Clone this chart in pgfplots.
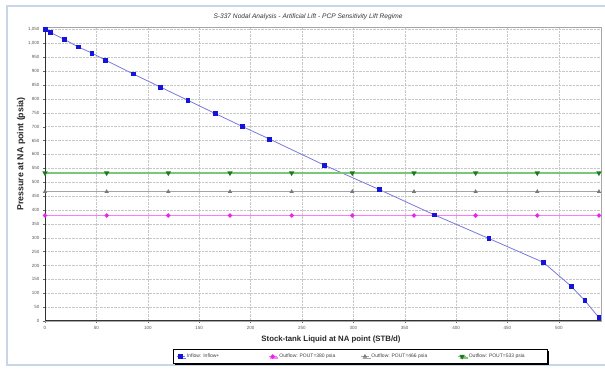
\documentclass[border=0pt]{standalone}
\usepackage{pgfplots}
\pgfplotsset{compat=1.18}
\usepackage{fontspec}
\setmainfont{Liberation Sans}
\usetikzlibrary{shadows}
\definecolor{inbl}{RGB}{120,120,225}
\definecolor{inmk}{RGB}{20,20,220}
\definecolor{mgl}{RGB}{255,120,255}
\definecolor{mgm}{RGB}{230,40,230}
\definecolor{grl}{RGB}{165,165,165}
\definecolor{grm}{RGB}{120,120,120}
\definecolor{gnl}{RGB}{120,200,120}
\definecolor{gnm}{RGB}{30,120,30}
\definecolor{frame}{RGB}{200,215,232}
\begin{document}
\begin{tikzpicture}[x=1pt,y=1pt]
\path[use as bounding box] (0,0) rectangle (605,371);
\draw[frame, line width=1.2pt] (7,6) rectangle (606,365);
\begin{axis}[
  at={(45pt,50pt)}, anchor=south west,
  scale only axis, width=556pt, height=294pt,
  xmin=0, xmax=541, ymin=0, ymax=1059,
  xtick={0,50,...,500}, ytick={0,50,...,1050},
  /pgf/number format/assume math mode=true,
  /pgf/number format/1000 sep={,},
  ticklabel style={font=\fontsize{4.5}{5}\selectfont, text=black!65},
  tick align=outside, major tick length=2pt,
  tick style={black!60},
  xtick pos=bottom, ytick pos=left,
  grid=major, major grid style={densely dotted, black!22},
  axis line style={black!35},
  legend columns=4,
  legend style={at={(0.5675,-0.146)}, anchor=south, draw=black, thick,
    font=\fontsize{5}{6}\selectfont, text=black!75, inner sep=2.5pt,
    fill=white, drop shadow={shadow xshift=1.6pt, shadow yshift=-1.6pt, fill=black, opacity=1},
    /tikz/every even column/.append style={column sep=1pt}},
  legend image code/.code={\draw[#1] (0pt,0pt) -- (8pt,0pt); \draw[#1, mark repeat=1] plot coordinates {(4pt,0pt)};},
]
\addplot[inbl, line width=0.8pt, mark=square*, mark size=1.9pt, mark options={inmk, solid}] coordinates {
(0,1050)(5.3,1039)(19,1014)(32.4,987)(45.7,965)(58.7,940)(85.7,890)(112.6,842)(139,795)(165.8,747)(192.4,700)(218.7,655)(272,561)(325.5,473)(379,382)(432,297)(485,211)(512,125)(525.4,73)(539,12)};
\addlegendentry{\makebox[78pt][l]{Inflow: Inflow+}}
\addplot[mgl, line width=1.4pt, mark=*, mark size=1.4pt, mark options={mgm, solid}] coordinates {
(0,380)(60,380)(120,380)(180,380)(240,380)(299,380)(359,380)(419,380)(479,380)(539,380)};
\addlegendentry{\makebox[78pt][l]{Outflow: POUT=380 psia}}
\addplot[grl, line width=1.0pt, mark=triangle*, mark size=1.5pt, mark options={grm, solid}] coordinates {
(0,466)(60,466)(120,466)(180,466)(240,466)(299,466)(359,466)(419,466)(479,466)(539,466)};
\addlegendentry{\makebox[83pt][l]{Outflow: POUT=466 psia}}
\addplot[gnl, line width=1.4pt, mark=triangle*, mark size=1.7pt, mark options={gnm, solid, rotate=180}] coordinates {
(0,533)(60,533)(120,533)(180,533)(240,533)(299,533)(359,533)(419,533)(479,533)(539,533)};
\addlegendentry{\makebox[74pt][l]{Outflow: POUT=533 psia}}
\draw[black!80, line width=1.2pt] (rel axis cs:0,1) -- (rel axis cs:0,0) -- (rel axis cs:1,0);
\end{axis}
\node[font=\itshape\fontsize{6.6}{7}\selectfont, text=black!80] at (308,354) {S-337 Nodal Analysis - Artificial Lift - PCP Sensitivity Lift Regime};
\node[font=\bfseries\fontsize{7.8}{9}\selectfont, text=black!85] at (331,32) {Stock-tank Liquid at NA point (STB/d)};
\node[font=\bfseries\fontsize{8.8}{10}\selectfont, text=black!85, rotate=90] at (21,217) {Pressure at NA point (psia)};
\end{tikzpicture}
\end{document}
